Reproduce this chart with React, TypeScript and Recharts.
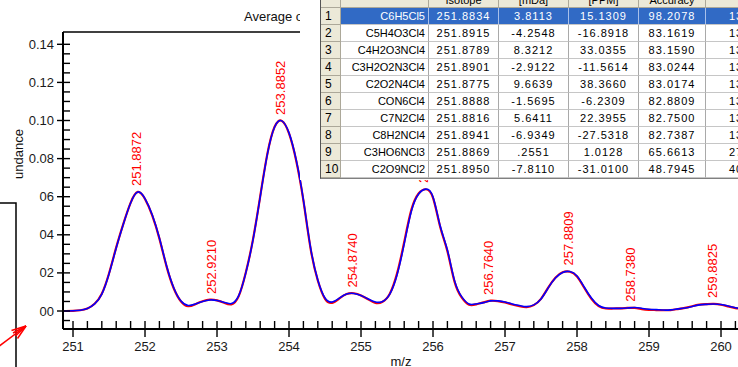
import React from "react";
import { ComposedChart, Line, Scatter, XAxis, YAxis, ReferenceLine } from "recharts";

// m/z sample positions and the two traces
const mz = [
  250.86, 250.9, 251.0, 251.1, 251.2, 251.3, 251.4, 251.5, 251.6, 251.7, 251.8, 251.9,
  252.0, 252.1, 252.2, 252.3, 252.4, 252.5, 252.6, 252.7, 252.8, 252.9,
  253.0, 253.1, 253.2, 253.3, 253.4, 253.5, 253.6, 253.7, 253.8, 253.9,
  254.0, 254.1, 254.2, 254.3, 254.4, 254.5, 254.6, 254.7, 254.8, 254.9,
  255.0, 255.1, 255.2, 255.3, 255.4, 255.5, 255.6, 255.7, 255.8, 255.9,
  256.0, 256.1, 256.2, 256.3, 256.4, 256.5, 256.6, 256.7, 256.8, 256.9,
  257.0, 257.1, 257.2, 257.3, 257.4, 257.5, 257.6, 257.7, 257.8, 257.9,
  258.0, 258.1, 258.2, 258.3, 258.4, 258.5, 258.6, 258.7, 258.8, 258.9,
  259.0, 259.1, 259.2, 259.3, 259.4, 259.5, 259.6, 259.7, 259.8, 259.9,
  260.0, 260.1, 260.2, 260.24,
];

const measured = [
  0.0, 0.0, 0.0001, 0.0004, 0.0013, 0.0037, 0.0089, 0.0194, 0.0331, 0.0457, 0.0567, 0.0625,
  0.059, 0.0505, 0.0383, 0.0236, 0.0121, 0.0052, 0.0029, 0.0037, 0.005, 0.0058,
  0.0055, 0.0045, 0.0039, 0.0079, 0.02, 0.0373, 0.0599, 0.0824, 0.0966, 0.0998,
  0.0935, 0.0793, 0.0583, 0.0331, 0.0163, 0.0068, 0.0047, 0.0068, 0.0089, 0.0092,
  0.0081, 0.0063, 0.0047, 0.005, 0.0089, 0.0189, 0.0352, 0.0525, 0.0614, 0.064,
  0.0599, 0.0446, 0.032, 0.0158, 0.0074, 0.0037, 0.0037, 0.0044, 0.0053, 0.0053,
  0.0047, 0.0037, 0.0029, 0.0023, 0.0032, 0.0063, 0.0121, 0.0173, 0.0202, 0.0207,
  0.0184, 0.0126, 0.0068, 0.0029, 0.0016, 0.0014, 0.0014, 0.0016, 0.0018, 0.0014,
  0.0009, 0.0007, 0.0005, 0.0006, 0.0011, 0.0016, 0.0024, 0.0032, 0.0035, 0.0037,
  0.0034, 0.0026, 0.0017, 0.0015,
];

const theoretical = [
  0.0, 0.0, 0.0001, 0.0004, 0.0013, 0.0038, 0.0091, 0.0197, 0.0334, 0.0459, 0.0568, 0.0625,
  0.0588, 0.0502, 0.038, 0.0233, 0.0118, 0.005, 0.0025, 0.0036, 0.0051, 0.006,
  0.0056, 0.0043, 0.0035, 0.0077, 0.0202, 0.0376, 0.0602, 0.0826, 0.0967, 0.0998,
  0.0932, 0.0789, 0.0579, 0.0327, 0.016, 0.0064, 0.0043, 0.0066, 0.0089, 0.0093,
  0.0082, 0.0061, 0.0043, 0.0049, 0.0091, 0.0196, 0.0362, 0.0532, 0.0617, 0.0639,
  0.0594, 0.0441, 0.0314, 0.0153, 0.007, 0.0033, 0.0035, 0.0045, 0.0054, 0.0052,
  0.0045, 0.0034, 0.0025, 0.002, 0.0031, 0.0064, 0.0123, 0.0175, 0.0203, 0.0206,
  0.0181, 0.0122, 0.0064, 0.0026, 0.0013, 0.0013, 0.0014, 0.0016, 0.0016, 0.001,
  0.0006, 0.0005, 0.0004, 0.0005, 0.001, 0.0016, 0.0025, 0.0033, 0.0036, 0.0037,
  0.0033, 0.0024, 0.0015, 0.0013,
];

// annotated peaks
const peakMz = [251.8872, 252.921, 253.8852, 254.874, 255.8727, 256.764, 257.8809, 258.738, 259.8825];
const peakHeight = [0.0625, 0.0058, 0.0998, 0.0092, 0.064, 0.0053, 0.0207, 0.0017, 0.0037];
const peakLabels = ["251.8872", "252.9210", "253.8852", "254.8740", "255.8727", "256.7640", "257.8809", "258.7380", "259.8825"];

// axes
const yMajorTicks = [0, 0.02, 0.04, 0.06, 0.08, 0.1, 0.12, 0.14];
const yMajorLabels = ["00", "02", "04", "06", "0.08", "0.10", "0.12", "0.14"];
const xDomain = [250.861, 260.236];
const yDomain = [-0.00945, 0.14646];

// hit table
const formulas = ["C6H5Cl5", "C5H4O3Cl4", "C4H2O3NCl4", "C3H2O2N3Cl4", "C2O2N4Cl4", "CON6Cl4", "C7N2Cl4", "C8H2NCl4", "C3HO6NCl3", "C2O9NCl2"];
const isotopes = ["251.8834", "251.8915", "251.8789", "251.8901", "251.8775", "251.8888", "251.8816", "251.8941", "251.8869", "251.8950"];
const mDa = ["3.8113", "-4.2548", "8.3212", "-2.9122", "9.6639", "-1.5695", "5.6411", "-6.9349", ".2551", "-7.8110"];
const ppm = ["15.1309", "-16.8918", "33.0355", "-11.5614", "38.3660", "-6.2309", "22.3955", "-27.5318", "1.0128", "-31.0100"];
const accuracy = ["98.2078", "83.1619", "83.1590", "83.0244", "83.0174", "82.8809", "82.7500", "82.7387", "65.6613", "48.7945"];
const lastCol = ["13", "13", "13", "13", "13", "13", "13", "13", "27", "40"];
const headers = ["", "", "Isotope", "[mDa]", "[PPM]", "Accuracy", ""];
const colWidths = [20, 88, 70, 70, 70, 67, 60];

const FONT = "'Liberation Sans', Arial, sans-serif";

const xTicks: number[] = [];
for (let k = 0; k <= 46; k++) xTicks.push(+(251 + k * 0.2).toFixed(1));
const yTicks: number[] = [];
for (let k = -1; k <= 28; k++) yTicks.push(+(k * 0.005).toFixed(3));

const chartData = mz.map((m, i) => ({ mz: m, meas: measured[i], theo: theoretical[i] }));
const peakData = peakMz.map((m, i) => ({ mz: m, h: peakHeight[i], label: peakLabels[i] }));

const XTick = ({ x, y, payload }: any) => {
  const v = payload.value;
  const major = Math.abs(v - Math.round(v)) < 1e-6;
  return (
    <g>
      <line x1={x} x2={x} y1={y - 8} y2={major ? y + 8 : y} stroke="#000" strokeWidth={1.4} />
      {major && (
        <text x={x} y={y + 22} textAnchor="middle" fontSize={13} fontFamily={FONT} fill="#1a1a1a">
          {Math.round(v)}
        </text>
      )}
    </g>
  );
};

const YTick = ({ x, y, payload }: any) => {
  const v = payload.value;
  const idx = yMajorTicks.findIndex((t) => Math.abs(t - v) < 1e-6);
  const major = idx >= 0;
  return (
    <g>
      <line x1={major ? x - 6 : x} x2={x + 7} y1={y} y2={y} stroke="#000" strokeWidth={1.4} />
      {major && (
        <text x={x - 9} y={y + 4.6} textAnchor="end" fontSize={13} fontFamily={FONT} fill="#1a1a1a">
          {yMajorLabels[idx]}
        </text>
      )}
    </g>
  );
};

const PeakLabel = (props: any) => {
  const { cx, cy, payload } = props;
  if (cx == null || cy == null) return <g />;
  return (
    <text
      transform={`translate(${cx},${cy - 6}) rotate(-90)`}
      x={0}
      y={4.6}
      fontSize={13}
      fontFamily={FONT}
      fill="#ff0000"
    >
      {payload.label}
    </text>
  );
};

function HitTable() {
  const cell = (w: number, extra: React.CSSProperties = {}): React.CSSProperties => ({
    width: w,
    flex: "none",
    boxSizing: "border-box",
    borderRight: "1px solid #a9a9a9",
    borderBottom: "1px solid #c6c6c6",
    overflow: "hidden",
    whiteSpace: "nowrap",
    ...extra,
  });
  const rows = formulas.map((f, i) => [String(i + 1), f, isotopes[i], mDa[i], ppm[i], accuracy[i], lastCol[i]]);
  return (
    <div
      style={{
        position: "absolute",
        left: 300,
        top: -7,
        width: 460,
        height: 187,
        background: "#fff",
        fontFamily: FONT,
        fontSize: 11,
        color: "#000",
      }}
    >
      <div style={{ position: "absolute", left: 20, top: 0, borderLeft: "1px solid #555", borderBottom: "1px solid #808080" }}>
        <div style={{ display: "flex", height: 15, lineHeight: "15px", background: "#ece9d8" }}>
          {headers.map((h, j) => (
            <div key={j} style={cell(colWidths[j], { textAlign: "center", borderRight: "1px solid #aca899", borderBottom: "1px solid #aca899" })}>
              {h}
            </div>
          ))}
        </div>
        {rows.map((r, i) => {
          const sel = i === 0;
          return (
            <div key={i} style={{ display: "flex", height: 17, lineHeight: "16px" }}>
              {r.map((v, j) => {
                let st: React.CSSProperties;
                if (j === 0) {
                  st = cell(colWidths[j], { background: "#ece9d8", paddingLeft: 4, borderRight: "1px solid #aca899", borderBottom: "1px solid #aca899", fontSize: 12 });
                } else {
                  st = cell(colWidths[j], {
                    background: sel ? "#316ac5" : "#fff",
                    color: sel ? "#fff" : "#000",
                    borderRight: sel ? "1px solid #a9c0ea" : "1px solid #a9a9a9",
                    textAlign: j === 1 ? "right" : j === 6 ? "left" : "center",
                    paddingRight: j === 1 ? 3 : 0,
                    paddingLeft: j === 6 ? 23 : 0,
                    letterSpacing: j >= 2 ? 1 : 0,
                  });
                }
                return (
                  <div key={j} style={st}>
                    {v}
                  </div>
                );
              })}
            </div>
          );
        })}
      </div>
    </div>
  );
}

export default function App() {
  return (
    <div style={{ position: "absolute", left: 0, top: 0, width: 738, height: 367, overflow: "hidden", background: "#fff" }}>
      <ComposedChart width={738} height={367} data={chartData} margin={{ top: 32, right: 0, bottom: 0, left: 0 }}>
        <XAxis
          dataKey="mz"
          type="number"
          domain={xDomain}
          allowDataOverflow
          ticks={xTicks}
          interval={0}
          tick={(p: any) => <XTick {...p} />}
          tickSize={0}
          tickMargin={0}
          tickLine={false}
          height={38}
          axisLine={{ stroke: "#000", strokeWidth: 2 }}
        />
        <YAxis
          type="number"
          domain={yDomain}
          allowDataOverflow
          ticks={yTicks}
          interval={0}
          tick={(p: any) => <YTick {...p} />}
          tickSize={0}
          tickMargin={0}
          tickLine={false}
          width={63}
          axisLine={{ stroke: "#000", strokeWidth: 2 }}
        />
        <ReferenceLine y={yDomain[1]} stroke="#000" strokeWidth={1.5} />
        <Line dataKey="theo" type="natural" stroke="#ff0000" strokeWidth={2.2} dot={false} isAnimationActive={false} />
        <Line dataKey="meas" type="natural" stroke="#0000ff" strokeWidth={1.6} dot={false} isAnimationActive={false} />
        <Scatter data={peakData} dataKey="h" shape={PeakLabel} isAnimationActive={false} />
      </ComposedChart>
      <svg width={738} height={367} style={{ position: "absolute", left: 0, top: 0, pointerEvents: "none" }}>
        <text x={244} y={21} fontSize={13} fontFamily={FONT} fill="#111">
          Average of Spectra
        </text>
        <text transform="translate(23,154) rotate(-90)" textAnchor="middle" fontSize={13} fontFamily={FONT} fill="#111">
          undance
        </text>
        <text x={401} y={366} textAnchor="middle" fontSize={13} fontFamily={FONT} fill="#111">
          m/z
        </text>
        <path d="M0 203 H16 V367" fill="none" stroke="#000" strokeWidth={1.5} />
        <g stroke="#ff0000" strokeWidth={1.5} fill="none">
          <line x1={-2} y1={347} x2={26} y2={326} />
          <line x1={26} y1={326} x2={11.5} y2={330.5} />
          <line x1={26} y1={326} x2={17.5} y2={338.5} />
          <line x1={26} y1={326} x2={13} y2={333} />
          <line x1={26} y1={326} x2={15.5} y2={336} />
        </g>
      </svg>
      <HitTable />
    </div>
  );
}
